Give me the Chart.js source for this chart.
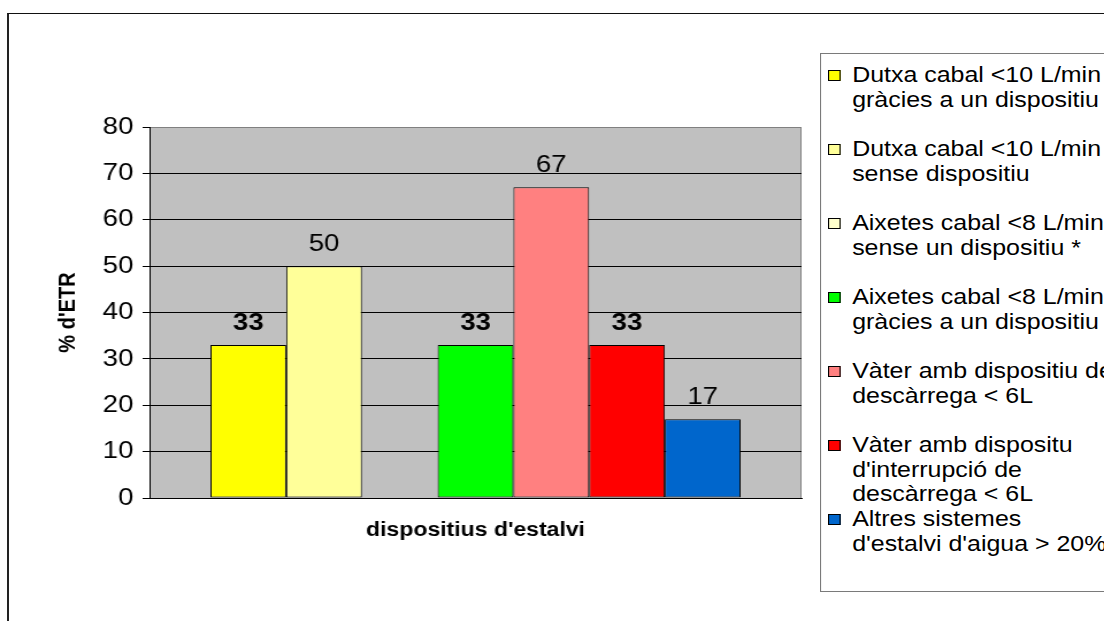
<!DOCTYPE html>
<html>
<head>
<meta charset="utf-8">
<script src="https://cdn.jsdelivr.net/npm/chart.js@4/dist/chart.umd.min.js"></script>
<style>
    html, body { margin: 0; padding: 0; background: #fff; overflow: hidden; }
    body { width: 1104px; height: 621px; position: relative; font-family: 'Liberation Sans', Arial, sans-serif; }
    /* marco exterior del gráfico */
    #frame { position: absolute; left: 7px; top: 13px; width: 1200px; height: 700px;
             border-left: 2px solid #222; border-top: 1px solid #111; }
    /* la imagen original está estirada en horizontal */
    #wrap { position: absolute; left: 0; top: 0; width: 960px; height: 621px; overflow: hidden;
            transform: scaleX(1.15); transform-origin: 0 0; }
    #chart { position: absolute; left: 0; top: 0; }
    #legend { position: absolute; left: 713px; top: 53px; width: 280px; height: 539px; box-sizing: border-box;
              border: 1px solid #7a7a7a; background: #fff; padding-top: 9px; }
    .item { display: flex; height: 74px; font-size: 21.7px; line-height: 24.5px; color: #000; }
    .mark { width: 9px; height: 9px; border: 1px solid #000; margin: 7px 10px 0 6px; flex: none; }
</style>
</head>
<body>
<div id="frame"></div>
<div id="wrap">
    <canvas id="chart" width="960" height="621"></canvas>
    <div id="legend"></div>
</div>
<script>
// Datos del gráfico
const categories = [''];
const seriesLabels = [
    ['Dutxa cabal <10 L/min', 'gràcies a un dispositiu'],
    ['Dutxa cabal <10 L/min', 'sense dispositiu'],
    ['Aixetes cabal <8 L/min', 'sense un dispositiu *'],
    ['Aixetes cabal <8 L/min', 'gràcies a un dispositiu'],
    ['Vàter amb dispositiu de', 'descàrrega < 6L'],
    ['Vàter amb dispositu', "d'interrupció de", 'descàrrega < 6L'],
    ['Altres sistemes', "d'estalvi d'aigua > 20%"]
];
const seriesValues = [33, 50, 0, 33, 67, 33, 17];
const yTickMin = 0;
const yTickMax = 80;
const yTickStep = 10;
const xTitle = "dispositius d'estalvi";
const yTitle = "% d'ETR";

// Estilos
const seriesColors = ['#FFFF00', '#FFFF99', '#FFFFCC', '#00FF00', '#FF8080', '#FF0000', '#0066CC'];
const labelBold = [true, false, false, true, false, true, false];
const FONT = "'Liberation Sans', Arial, sans-serif";

// Fondo gris del área de trazado
const plotBackground = {
    id: 'plotBackground',
    beforeDraw(chart) {
        const { ctx, chartArea: a } = chart;
        ctx.save();
        ctx.fillStyle = '#C0C0C0';
        ctx.fillRect(a.left, a.top, a.right - a.left, a.bottom - a.top);
        ctx.strokeStyle = '#808080';
        ctx.lineWidth = 1;
        ctx.strokeRect(a.left + 0.5, a.top + 0.5, a.right - a.left - 1, a.bottom - a.top);
        ctx.restore();
    }
};

// Etiquetas de valor encima de cada barra
const valueLabels = {
    id: 'valueLabels',
    afterDatasetsDraw(chart) {
        const ctx = chart.ctx;
        ctx.save();
        ctx.fillStyle = '#000';
        ctx.textAlign = 'center';
        ctx.textBaseline = 'alphabetic';
        chart.data.datasets.forEach((ds, i) => {
            const value = ds.data[0];
            if (!value) return;
            const bar = chart.getDatasetMeta(i).data[0];
            ctx.font = (labelBold[i] ? 'bold ' : '') + '24px ' + FONT;
            ctx.fillText(String(value), bar.x, bar.y - 15);
        });
        ctx.restore();
    }
};

const datasets = seriesValues.map((v, i) => ({
    label: seriesLabels[i].join(' '),
    data: [v],
    backgroundColor: seriesColors[i],
    borderColor: '#000',
    borderWidth: 1,
    borderSkipped: false,
    barPercentage: 1,
    categoryPercentage: 0.813
}));

new Chart(document.getElementById('chart'), {
    type: 'bar',
    data: { labels: categories, datasets: datasets },
    plugins: [plotBackground, valueLabels],
    options: {
        responsive: false,
        animation: false,
        layout: { padding: { top: 127, right: 263, left: 0, bottom: 0 } },
        plugins: {
            legend: { display: false },
            tooltip: { enabled: false }
        },
        scales: {
            x: {
                afterFit(scale) { scale.height = 123; },
                grid: { display: false },
                border: { display: true, color: '#000', width: 1 },
                ticks: { display: false },
                title: {
                    display: true,
                    text: xTitle,
                    color: '#000',
                    font: { family: FONT, size: 20, weight: 'bold' },
                    padding: { top: 0, bottom: 79 }
                }
            },
            y: {
                min: yTickMin,
                max: yTickMax,
                afterFit(scale) { scale.width = 130; },
                border: { display: true, color: '#000', width: 1 },
                grid: {
                    color: ctx => (ctx.tick && ctx.tick.value === yTickMax ? '#808080' : '#000'),
                    tickColor: '#000',
                    tickLength: 6,
                    lineWidth: 1
                },
                ticks: {
                    stepSize: yTickStep,
                    color: '#000',
                    padding: 8,
                    font: { family: FONT, size: 24 }
                },
                title: {
                    display: true,
                    text: yTitle,
                    color: '#000',
                    font: { family: FONT, size: 20, weight: 'bold' },
                    padding: { top: 47, bottom: 0 }
                }
            }
        }
    }
});

// Leyenda en HTML (textos de varias líneas)
const legendEl = document.getElementById('legend');
seriesLabels.forEach((lines, i) => {
    const item = document.createElement('div');
    item.className = 'item';
    const mark = document.createElement('span');
    mark.className = 'mark';
    mark.style.background = seriesColors[i];
    const text = document.createElement('div');
    text.innerHTML = lines.map(l => l.replace(/&/g, '&amp;').replace(/</g, '&lt;').replace(/>/g, '&gt;')).join('<br>');
    item.appendChild(mark);
    item.appendChild(text);
    legendEl.appendChild(item);
});
</script>
</body>
</html>
